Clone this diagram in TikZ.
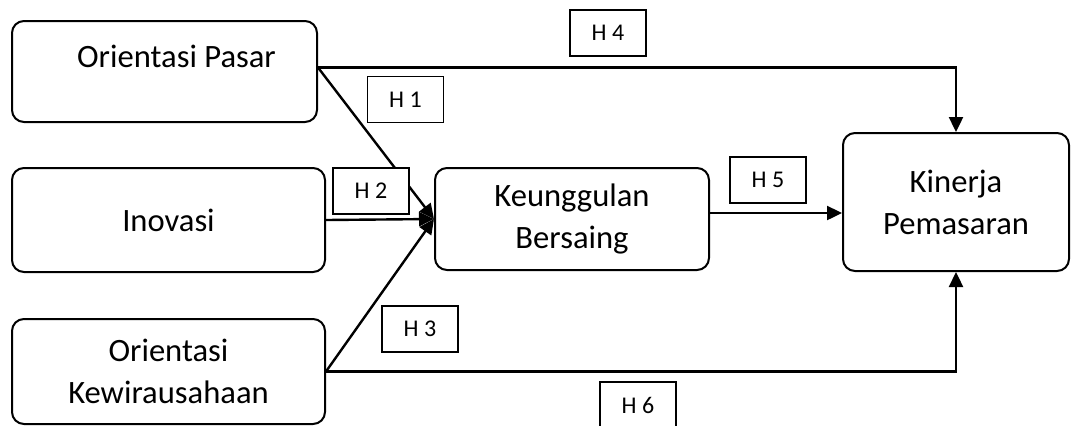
\documentclass[tikz,border=0pt]{standalone}
\usepackage{fontspec}
\setmainfont{Carlito}
\usetikzlibrary{arrows.meta}

\begin{document}
\begin{tikzpicture}[x=0.5pt, y=-0.5pt, >={Triangle[length=7.5pt,width=7pt]},
    var/.style={draw, line width=1pt, rounded corners=6pt, align=center,
        font=\fontsize{16.3}{21}\selectfont},
    hyp/.style={draw, fill=white, line width=0.9pt, minimum width=38pt,
        minimum height=23pt, font=\fontsize{12}{14}\selectfont},
    link/.style={->, line width=1.2pt}]
    \useasboundingbox (0,0) rectangle (1072,425);

    % Variables {pasar, inov, kew, keung, kinerja}
    \node [var, minimum width=152.5pt, minimum height=50.5pt] (pasar)   at (164.5,71.5) {\raisebox{0pt}[11.5pt][16pt]{\hspace{12pt}Orientasi Pasar}};
    \node [var, minimum width=156.5pt, minimum height=52pt]   (inov)    at (168.5,220)  {Inovasi};
    \node [var, minimum width=156.5pt, minimum height=52.5pt] (kew)     at (168.5,371.5) {Orientasi\\Kewirausahaan};
    \node [var, minimum width=137pt,   minimum height=51pt]   (keung)   at (572,219)    {Keunggulan\\Bersaing};
    \node [var, minimum width=113pt,   minimum height=69pt]   (kinerja) at (956,202)    {Kinerja\\Pemasaran};

    % Paths
    \draw [link] ([yshift=2pt]pasar.east) -- (keung.west);
    \draw [link] ([yshift=2pt]pasar.east) -| (kinerja.north);
    \draw [link] (inov.east)  -- (keung.west);
    \draw [link] (kew.east)   -- (keung.west);
    \draw [link] (kew.east)   -| (kinerja.south);
    \draw [link] ([yshift=3pt]keung.east) -- ([yshift=3pt]keung.east -| kinerja.west);

    % Hypotheses {H1 .. H6}
    \node [hyp] (h1) at (405.5,99.5) {H 1};
    \node [hyp] (h2) at (371,191)    {H 2};
    \node [hyp] (h3) at (420,329)    {H 3};
    \node [hyp] (h4) at (608,33)     {H 4};
    \node [hyp] (h5) at (768,180)    {H 5};
    \node [hyp] (h6) at (638,405)    {H 6};

\end{tikzpicture}
\end{document}
